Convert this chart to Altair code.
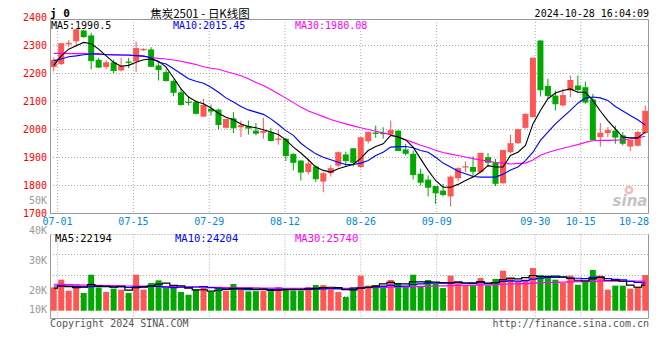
import altair as alt
import pandas as pd

# ---------------- data ----------------
OPEN = [2223, 2234, 2304, 2315, 2354, 2336, 2249, 2223, 2240, 2211,
        2242, 2244, 2283, 2286, 2229, 2205, 2173, 2133, 2099, 2098,
        2046, 2074, 2071, 2006, 2040, 2008, 2012, 1996, 1988, 1990,
        1963, 1967, 1913, 1889, 1848, 1868, 1814, 1844, 1871, 1911,
        1933, 1866, 1958, 1989, 1988, 1982, 1996, 1929, 1913, 1842,
        1821, 1798, 1782, 1761, 1826, 1865, 1866, 1848, 1901, 1883,
        1808, 1919, 1951, 2006, 2044, 2318, 2156, 2121, 2086, 2139,
        2157, 2151, 2107, 1973, 1987, 1996, 1979, 1939, 1942, 1987]
HIGH = [2256, 2308, 2320, 2358, 2356, 2346, 2256, 2246, 2249, 2256,
        2256, 2314, 2290, 2294, 2238, 2214, 2179, 2145, 2118, 2104,
        2110, 2089, 2074, 2036, 2062, 2032, 2032, 2023, 2042, 2006,
        1999, 1970, 1915, 1892, 1892, 1872, 1848, 1872, 1921, 1921,
        1933, 1972, 1993, 2014, 2008, 2032, 1997, 1949, 1925, 1860,
        1836, 1798, 1806, 1836, 1865, 1886, 1904, 1916, 1916, 1895,
        1928, 1982, 2002, 2058, 2255, 2318, 2181, 2139, 2145, 2193,
        2193, 2171, 2127, 2023, 2008, 2014, 1991, 1961, 1996, 2086]
LOW = [2208, 2230, 2294, 2296, 2327, 2215, 2219, 2215, 2201, 2207,
       2219, 2205, 2280, 2225, 2175, 2171, 2119, 2086, 2086, 2054,
       2046, 2050, 2000, 2003, 1987, 1973, 1982, 1979, 1967, 1958,
       1946, 1887, 1854, 1818, 1839, 1812, 1776, 1832, 1866, 1866,
       1868, 1862, 1950, 1970, 1967, 1979, 1924, 1907, 1821, 1800,
       1761, 1734, 1761, 1725, 1815, 1848, 1830, 1844, 1866, 1798,
       1806, 1915, 1948, 2003, 2043, 2118, 2110, 2068, 2082, 2116,
       2133, 2092, 1963, 1939, 1973, 1949, 1943, 1923, 1939, 1985]
CLOSE = [2247, 2306, 2308, 2356, 2332, 2246, 2223, 2238, 2211, 2226,
         2240, 2289, 2286, 2226, 2214, 2175, 2133, 2089, 2097, 2058,
         2086, 2066, 2018, 2036, 2006, 2014, 2005, 1987, 1993, 1961,
         1966, 1907, 1883, 1848, 1877, 1824, 1842, 1860, 1917, 1889,
         1883, 1970, 1990, 1986, 1985, 1996, 1925, 1915, 1839, 1812,
         1794, 1774, 1768, 1830, 1860, 1867, 1851, 1915, 1883, 1808,
         1925, 1949, 1999, 2054, 2255, 2142, 2121, 2092, 2121, 2175,
         2143, 2098, 1963, 1987, 1996, 1973, 1951, 1961, 1989, 2065]
VOLUME_K = [20.3, 27.0, 17.4, 22.6, 15.4, 31.3, 20.3, 16.3, 19.2, 18.3,
            15.4, 31.3, 18.3, 24.1, 26.4, 19.7, 22.1, 16.3, 13.9, 18.3,
            20.3, 16.3, 20.3, 17.4, 23.2, 19.7, 16.8, 17.0, 17.4, 17.0,
            20.6, 19.7, 17.4, 17.4, 20.6, 22.3, 22.3, 19.2, 16.3, 11.9,
            20.6, 30.5, 21.8, 22.3, 21.8, 26.7, 24.1, 21.5, 31.3, 21.5,
            26.7, 23.2, 19.7, 30.5, 24.1, 22.1, 22.1, 28.4, 22.1, 27.6,
            34.8, 28.4, 25.5, 27.0, 37.1, 30.8, 28.4, 27.0, 24.1, 30.5,
            22.6, 25.5, 35.4, 30.5, 18.3, 21.8, 21.8, 19.2, 20.9, 31.0]
MA5 = [2229, 2263, 2287, 2299, 2311, 2306, 2287, 2263, 2240, 2226,
       2229, 2240, 2249, 2252, 2244, 2223, 2185, 2145, 2116, 2100,
       2092, 2077, 2058, 2044, 2035, 2020, 2011, 2006, 1999, 1991,
       1982, 1963, 1937, 1916, 1892, 1866, 1854, 1848, 1860, 1868,
       1875, 1897, 1925, 1939, 1949, 1979, 1973, 1963, 1937, 1895,
       1854, 1818, 1794, 1794, 1804, 1818, 1830, 1848, 1871, 1866,
       1866, 1907, 1919, 1943, 2020, 2068, 2110, 2130, 2139, 2145,
       2133, 2133, 2104, 2066, 2032, 2002, 1973, 1970, 1970, 1990.5]
MA10 = [2246, 2252, 2260, 2263, 2267, 2270, 2270, 2267, 2267, 2266,
        2266, 2264, 2262, 2256, 2240, 2234, 2217, 2199, 2181, 2172,
        2165, 2151, 2133, 2113, 2098, 2082, 2070, 2062, 2054, 2038,
        2018, 1996, 1979, 1951, 1931, 1913, 1901, 1892, 1883, 1875,
        1875, 1880, 1889, 1907, 1919, 1937, 1939, 1939, 1935, 1925,
        1919, 1901, 1880, 1866, 1851, 1842, 1832, 1830, 1830, 1830,
        1840, 1855, 1866, 1889, 1919, 1961, 1991, 2020, 2044, 2068,
        2094, 2112, 2116, 2113, 2104, 2082, 2066, 2050, 2035, 2015.45]
MA30 = [2272, 2272, 2271, 2271, 2271, 2270, 2269, 2268, 2266, 2266,
        2265, 2264, 2262, 2257, 2254, 2252, 2248, 2244, 2238, 2232,
        2224, 2219, 2215, 2207, 2200, 2192, 2181, 2168, 2157, 2143,
        2128, 2112, 2096, 2080, 2066, 2056, 2046, 2036, 2028, 2020,
        2013, 2006, 2000, 1994, 1988, 1981, 1973, 1963, 1954, 1944,
        1936, 1926, 1918, 1912, 1907, 1902, 1896, 1891, 1887, 1882,
        1880, 1877, 1879, 1880, 1891, 1908, 1918, 1926, 1933, 1939,
        1946, 1954, 1960, 1961, 1961, 1962, 1963, 1966, 1970, 1976]
VMA5 = [19.7, 21.5, 21.0, 20.0, 20.5, 22.7, 21.4, 21.2, 20.5, 21.1,
        17.9, 20.1, 20.5, 21.5, 23.1, 24.0, 22.1, 21.7, 19.7, 18.1,
        18.2, 17.0, 17.8, 18.5, 19.5, 19.4, 19.5, 18.8, 18.8, 17.6,
        17.8, 18.3, 18.4, 18.4, 19.1, 19.5, 20.0, 20.4, 20.1, 18.4,
        18.1, 19.7, 20.2, 21.4, 23.4, 24.6, 23.3, 23.3, 25.1, 25.0,
        25.0, 24.8, 24.5, 24.3, 24.8, 23.9, 23.7, 25.4, 23.8, 24.5,
        27.0, 28.3, 27.7, 28.7, 30.6, 29.8, 29.8, 30.1, 29.5, 28.2,
        26.5, 25.9, 27.6, 28.9, 26.5, 26.3, 25.6, 22.3, 20.4, 22.2]
VMA10 = [21.5, 21.5, 21.3, 21.0, 20.8, 21.0, 21.2, 21.0, 20.8, 20.8,
         20.3, 20.8, 20.9, 21.3, 21.1, 20.5, 20.1, 20.5, 20.2, 20.6,
         20.9, 20.0, 19.7, 19.1, 18.8, 18.8, 18.4, 18.4, 18.6, 18.6,
         18.5, 18.6, 18.5, 18.5, 18.5, 18.7, 19.0, 19.5, 19.0, 18.5,
         18.9, 19.9, 20.2, 20.8, 21.2, 22.0, 21.2, 21.5, 22.8, 23.3,
         24.0, 24.0, 23.9, 24.0, 24.8, 24.1, 24.3, 24.6, 24.1, 24.5,
         25.5, 26.0, 25.7, 26.1, 27.5, 28.4, 29.0, 28.9, 29.1, 28.3,
         28.2, 27.9, 28.9, 29.3, 28.0, 27.2, 26.8, 25.5, 24.6, 24.2]
VMA30 = [23.0, 22.9, 22.7, 22.5, 22.3, 22.2, 22.1, 21.9, 21.8, 21.6,
         21.5, 21.5, 21.4, 21.3, 21.2, 21.0, 20.9, 20.8, 20.7, 20.6,
         20.5, 20.3, 20.2, 20.1, 20.0, 19.9, 19.9, 19.8, 19.7, 19.6,
         19.6, 19.5, 19.5, 19.4, 19.4, 19.4, 19.4, 19.5, 19.5, 19.5,
         19.6, 19.9, 20.0, 20.1, 20.2, 20.4, 20.6, 20.8, 21.0, 21.1,
         21.3, 21.5, 21.6, 21.8, 22.0, 22.1, 22.2, 22.4, 22.5, 22.7,
         23.0, 23.2, 23.4, 23.6, 24.0, 24.3, 24.5, 24.7, 24.9, 25.1,
         25.2, 25.3, 25.5, 25.7, 25.7, 25.7, 25.7, 25.7, 25.7, 25.7]

DATE_LABELS = ["07-01", "07-15", "07-29", "08-12", "08-26", "09-09", "09-30", "10-15", "10-28"]
DATE_INDEX = [1, 11, 21, 31, 41, 51, 64, 70, 79]
PRICE_TICKS = [1700, 1800, 1900, 2000, 2100, 2200, 2300, 2400]
VOL_TICK_LABELS = ["10K", "20K", "30K", "40K", "50K"]
VOL_TICK_VALUES = [10, 20, 30, 40, 50]

TITLE_CODE = "j 0"
TITLE = "焦炭2501 - 日K线图"
STAMP = "2024-10-28 16:04:09"
MA_TEXT = ["MA5:1990.5", "MA10:2015.45", "MA30:1980.08"]
VMA_TEXT = ["MA5:22194", "MA10:24204", "MA30:25740"]

# ---------------- styling / layout ----------------
RED, GREEN = "#FF5555", "#00A800"
MONO = "DejaVu Sans Mono"
CJK = "Noto Sans CJK SC"
GRID = "#AAAAAA"
FRAME = "#999999"
W, H = 599, 300
N = len(CLOSE)

MAIN_BASE_PX = 194.5       # pixel row of 1700 in chart coords
PX_PER_PRICE = 0.28
VOL_BASE_PX = 291.7
PX_PER_K = 1.15

xs = alt.Scale(domain=[-0.5, N - 0.5], nice=False, zero=False)
xg = alt.Scale(domain=[0, N - 1], nice=False, zero=False)
yp = alt.Scale(domain=[1700 - (H - MAIN_BASE_PX) / PX_PER_PRICE,
                       1700 + MAIN_BASE_PX / PX_PER_PRICE], nice=False, zero=False)
yv = alt.Scale(domain=[-(H - VOL_BASE_PX) / PX_PER_K, VOL_BASE_PX / PX_PER_K],
               nice=False, zero=False)
yl = alt.Scale(domain=[20 - (H - 271.7) / 3.0, 20 + 271.7 / 3.0], nice=False, zero=False)
cscale = alt.Scale(domain=["up", "down"], range=[RED, GREEN])

df = pd.DataFrame({
    "idx": list(range(N)), "open": OPEN, "high": HIGH, "low": LOW, "close": CLOSE,
    "vol": VOLUME_K, "ma5": MA5, "ma10": MA10, "ma30": MA30,
    "vma5": VMA5, "vma10": VMA10, "vma30": VMA30,
})
df["dir"] = ["up" if c >= o else "down" for o, c in zip(OPEN, CLOSE)]

dates = pd.DataFrame({"label": DATE_LABELS, "gidx": DATE_INDEX})
prices = pd.DataFrame({"p": PRICE_TICKS})
vticks = pd.DataFrame({"t": VOL_TICK_LABELS, "v": VOL_TICK_VALUES})
one = pd.DataFrame({"a": [0]})

X = lambda f="idx": alt.X(f"{f}:Q", scale=xs, axis=None)
COLOR = alt.Color("dir:N", scale=cscale, legend=None)


def txt(s, x, y, color="#000", size=10, align="left", font=MONO, weight="normal", style="normal"):
    return alt.Chart(pd.DataFrame({"t": [s]})).mark_text(
        align=align, baseline="middle", font=font, fontSize=size, color=color,
        fontWeight=weight, fontStyle=style
    ).encode(text="t:N", x=alt.value(x), y=alt.value(y))


def vrule(x, y, y2, dash=None, color=FRAME):
    kw = dict(color=color, strokeWidth=1)
    if dash:
        kw["strokeDash"] = dash
    return alt.Chart(one).mark_rule(**kw).encode(x=alt.value(x), y=alt.value(y), y2=alt.value(y2))


def hrule(y, x, x2, dash=None, color=FRAME):
    kw = dict(color=color, strokeWidth=1)
    if dash:
        kw["strokeDash"] = dash
    return alt.Chart(one).mark_rule(**kw).encode(y=alt.value(y), x=alt.value(x), x2=alt.value(x2))


layers = []

# grid: price lines
layers.append(alt.Chart(prices).transform_filter("datum.p > 1700 && datum.p < 2400")
              .mark_rule(color=GRID, strokeDash=[1, 2], strokeWidth=1)
              .encode(y=alt.Y("p:Q", scale=yp, axis=None), x=alt.value(0), x2=alt.value(W)))
# grid: date lines in both panels
for y0, y1 in [(0, MAIN_BASE_PX), (215.5, H)]:
    layers.append(alt.Chart(dates).transform_filter(f"datum.gidx < {N - 1}")
                  .mark_rule(color=GRID, strokeDash=[1, 2], strokeWidth=1)
                  .encode(x=alt.X("gidx:Q", scale=xg, axis=None), y=alt.value(y0), y2=alt.value(y1)))
# volume panel grid (quarters)
for yy in [235.5, 256.5, 277.5]:
    layers.append(hrule(yy, 0, W, dash=[1, 2], color=GRID))

# frames
layers.append(alt.Chart(one).mark_rect(filled=False, stroke=FRAME, strokeWidth=1).encode(
    x=alt.value(0.5), x2=alt.value(W - 0.5), y=alt.value(0.5), y2=alt.value(MAIN_BASE_PX)))
layers.append(hrule(215.5, 0.5, W - 0.5, dash=[1, 2], color=FRAME))
layers.append(vrule(0.5, 215.5, H - 0.5))
layers.append(vrule(W - 0.5, 215.5, H - 0.5))
layers.append(hrule(H - 0.5, 0.5, W - 0.5))

# sina watermark
layers.append(alt.Chart(one).mark_point(shape="circle", size=40, strokeWidth=2.5,
                                        color="#F4B4B4", opacity=0.9)
              .encode(x=alt.value(579), y=alt.value(171)))
layers.append(txt("sina", 580, 182, size=15, color="#C4C4C4", align="center",
                  font="DejaVu Sans", weight="bold", style="italic"))

base = alt.Chart(df).transform_calculate(x0="datum.idx - 0.4", x1="datum.idx + 0.4", v0="0")

# volume bars
layers.append(base.mark_rect().encode(
    x=X("x0"), x2="x1:Q", y=alt.Y("vol:Q", scale=yv, axis=None), y2="v0:Q", color=COLOR))
# volume MAs
for f, c in [("vma30", "#FF00FF"), ("vma10", "#0000FF"), ("vma5", "#000000")]:
    layers.append(alt.Chart(df).mark_line(color=c, strokeWidth=1.2, interpolate="step").encode(
        x=X(), y=alt.Y(f"{f}:Q", scale=yv, axis=None)))

# candles
layers.append(alt.Chart(df).mark_rule(strokeWidth=1).encode(
    x=X(), y=alt.Y("low:Q", scale=yp, axis=None), y2="high:Q", color=COLOR))
layers.append(base.mark_rect().encode(
    x=X("x0"), x2="x1:Q", y=alt.Y("open:Q", scale=yp, axis=None), y2="close:Q", color=COLOR))
layers.append(base.mark_rule(strokeWidth=1).encode(
    x=X("x0"), x2="x1:Q", y=alt.Y("close:Q", scale=yp, axis=None), color=COLOR))

# price MAs
for f, c in [("ma30", "#FF00FF"), ("ma10", "#0000FF"), ("ma5", "#000000")]:
    layers.append(alt.Chart(df).mark_line(color=c, strokeWidth=1.1).encode(
        x=X(), y=alt.Y(f"{f}:Q", scale=yp, axis=None)))

# axis labels
layers.append(alt.Chart(prices).mark_text(align="right", baseline="middle", font=MONO,
                                          fontSize=10, color="#FF0000").encode(
    y=alt.Y("p:Q", scale=yp, axis=None), x=alt.value(-3), text="p:Q"))
layers.append(alt.Chart(vticks).transform_calculate(lv="max(datum.v, 13.57)")
              .mark_text(align="right", baseline="middle", font=MONO, fontSize=10, color="#999999")
              .encode(y=alt.Y("lv:Q", scale=yl, axis=None), x=alt.value(-3), text="t:N"))
layers.append(alt.Chart(dates).transform_filter(f"datum.gidx < {N - 1}")
              .mark_text(align="center", baseline="middle", font=MONO, fontSize=10, color="#0088DD")
              .encode(x=alt.X("gidx:Q", scale=xg, axis=None), y=alt.value(203), text="label:N"))
layers.append(alt.Chart(dates).transform_filter(f"datum.gidx >= {N - 1}")
              .mark_text(align="right", baseline="middle", font=MONO, fontSize=10, color="#0088DD")
              .encode(x=alt.X("gidx:Q", scale=xg, axis=None), y=alt.value(203), text="label:N"))

# texts
layers += [
    txt(TITLE_CODE, 0, -5, size=11, weight="bold"),
    txt(TITLE, 150, -4, size=11.5, align="center", font=CJK),
    txt(STAMP, W, -5, align="right"),
    txt(MA_TEXT[0], 1, 6.5, size=10),
    txt(MA_TEXT[1], 123, 6.5, size=10, color="#0000FF"),
    txt(MA_TEXT[2], 245, 6.5, size=10, color="#FF00FF"),
    txt(VMA_TEXT[0], 5, 219.5, size=10.5),
    txt(VMA_TEXT[1], 125, 219.5, size=10.5, color="#0000FF"),
    txt(VMA_TEXT[2], 245, 219.5, size=10.5, color="#FF00FF"),
    txt("Copyright 2024 SINA.COM", 0, 304.5, color="#555555"),
    txt("http://finance.sina.com.cn", W, 305, color="#555555", align="right"),
]

chart = alt.layer(*layers).resolve_scale(x="independent", y="independent").properties(
    width=W, height=H,
    autosize=alt.AutoSizeParams(type="none"),
    padding={"left": 42, "top": 11, "right": 3, "bottom": 33},
).configure_view(stroke=None)

chart.save("out.html", embed_options={"renderer": "svg", "actions": False})
